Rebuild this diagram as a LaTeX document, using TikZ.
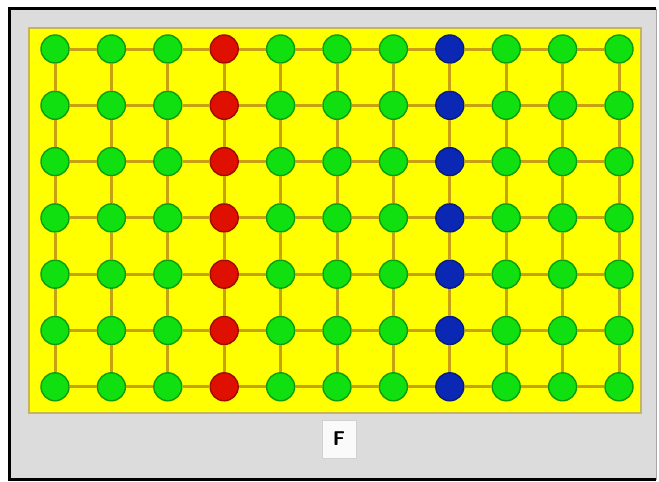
\documentclass[tikz,border=0pt]{standalone}
\usepackage{tikz}
\definecolor{panelgray}{HTML}{DCDCDC}
\definecolor{fieldyellow}{HTML}{FFFF00}
\definecolor{fieldedge}{HTML}{C8B45A}
\definecolor{linkolive}{HTML}{C8A010}
\definecolor{cellgreen}{HTML}{10E010}
\definecolor{cellred}{HTML}{E01000}
\definecolor{cellblue}{HTML}{0A28B4}

\tikzset{
  cell/.style={circle, minimum size=28pt, inner sep=0pt, draw=#1!70!black,
    line width=1.4pt, fill=#1},
  link/.style={linkolive, line width=3pt}
}

\begin{document}
\begin{tikzpicture}[x=1pt,y=-1pt]
    \path[use as bounding box] (0,0) rectangle (659,482);

    % Grey panel with its dark frame.
    \fill[panelgray] (10,9) rectangle (656,479);
    \draw[black, line width=3pt] (656,8.5) -- (9.5,8.5) -- (9.5,479.5) -- (656,479.5);
    \draw[black!35, line width=1pt] (656,8.5) -- (656,479.5);

    % Yellow field holding the grid.
    \draw[fieldedge, fill=fieldyellow, line width=2pt] (29,28) rectangle (641,413);

    % Eleven columns by seven rows of cells.
    \foreach \col in {1,...,11} {
      \foreach \row in {1,...,7} {
        \ifnum\col=4
          \def\cellcolor{cellred}
        \else\ifnum\col=8
          \def\cellcolor{cellblue}
        \else
          \def\cellcolor{cellgreen}
        \fi\fi
        \node[cell=\cellcolor] (c-\col-\row)
          at ({55+56.4*(\col-1)},{49+56.3*(\row-1)}) {};
      }
    }

    % Links between neighbouring cells.
    \foreach \col [count=\next from 2] in {1,...,10} {
      \foreach \row in {1,...,7} {
        \draw[link] (c-\col-\row) -- (c-\next-\row);
      }
    }
    \foreach \col in {1,...,11} {
      \foreach \row [count=\next from 2] in {1,...,6} {
        \draw[link] (c-\col-\row) -- (c-\col-\next);
      }
    }

    % Caption box under the field.
    \node[fill=white!96!gray, draw=black!18, line width=1pt,
      minimum width=34pt, minimum height=38pt,
      font=\sffamily\bfseries\fontsize{20}{24}\selectfont] (caption)
      at (339,439) {F};
  \end{tikzpicture}
\end{document}
